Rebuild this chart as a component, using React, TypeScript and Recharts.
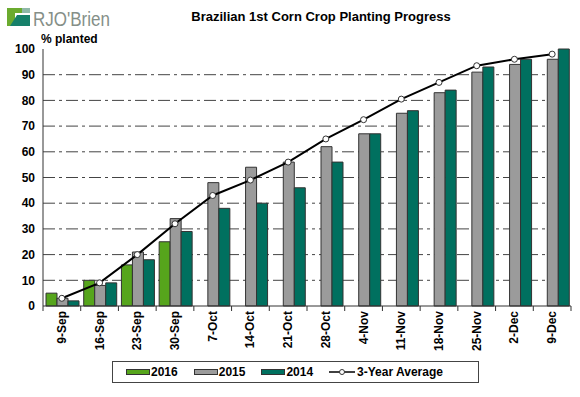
import React from 'react';
import {
  ComposedChart,
  Bar,
  Line,
  XAxis,
  YAxis,
  CartesianGrid,
  Legend,
} from 'recharts';

const weeks = [
  '9-Sep', '16-Sep', '23-Sep', '30-Sep', '7-Oct', '14-Oct', '21-Oct',
  '28-Oct', '4-Nov', '11-Nov', '18-Nov', '25-Nov', '2-Dec', '9-Dec',
];
const crop2016 = [5, 10, 16, 25, null, null, null, null, null, null, null, null, null, null];
const crop2015 = [3, 8, 21, 34, 48, 54, 56, 62, 67, 75, 83, 91, 94, 96];
const crop2014 = [2, 9, 18, 29, 38, 40, 46, 56, 67, 76, 84, 93, 96, 100];
const threeYearAvg = [3, 9, 20, 32, 43, 49, 56, 65, 72.5, 80.5, 87, 93.5, 96, 98];
const yTicks = [0, 10, 20, 30, 40, 50, 60, 70, 80, 90, 100];

const rows = weeks.map((week, i) => ({
  week,
  y2016: crop2016[i],
  y2015: crop2015[i],
  y2014: crop2014[i],
  avg: threeYearAvg[i],
}));

const FONT = '"Liberation Sans", Arial, sans-serif';
const C2016 = '#56a51c';
const C2015 = '#9b9b9b';
const C2014 = '#00705f';
const EDGE = '#333333';

const W = 580;
const H = 397;
const M = { top: 49, right: 9, left: 0, bottom: 14 };
const Y_W = 43;
const BAND = (W - M.left - M.right - Y_W) / weeks.length;

function WeekTick(props: any) {
  const { x, y, payload, index } = props;
  const left = x - BAND / 2;
  return (
    <g>
      <line x1={left} y1={y} x2={left} y2={y + 5} stroke={EDGE} />
      {index === weeks.length - 1 && (
        <line x1={x + BAND / 2} y1={y} x2={x + BAND / 2} y2={y + 5} stroke={EDGE} />
      )}
      <text
        transform={`translate(${x},${y + 5}) rotate(-90)`}
        textAnchor="end"
        dy={4}
        fontFamily={FONT}
        fontSize={12}
        fontWeight="bold"
        fill="#000"
      >
        {payload.value}
      </text>
    </g>
  );
}

const legendItems = [
  { label: '2016', color: C2016, kind: 'bar' },
  { label: '2015', color: C2015, kind: 'bar' },
  { label: '2014', color: C2014, kind: 'bar' },
  { label: '3-Year Average', color: '#000', kind: 'line' },
];

function LegendBox() {
  return (
    <div
      style={{
        width: 352,
        height: 20,
        border: '1px solid #444',
        background: '#fff',
        display: 'flex',
        alignItems: 'center',
        fontFamily: FONT,
        fontSize: 12,
        fontWeight: 'bold',
        paddingLeft: 13,
        boxSizing: 'content-box',
      }}
    >
      {legendItems.map((it) => (
        <div key={it.label} style={{ display: 'flex', alignItems: 'center', marginRight: 16 }}>
          {it.kind === 'bar' ? (
            <svg width={24} height={8}>
              <rect x={0.5} y={1.5} width={23} height={5} fill={it.color} stroke={EDGE} />
            </svg>
          ) : (
            <svg width={26} height={8}>
              <line x1={0} y1={4} x2={26} y2={4} stroke="#000" strokeWidth={1.5} />
              <circle cx={13} cy={4} r={2.5} fill="#fff" stroke="#333" />
            </svg>
          )}
          <span style={{ marginLeft: it.kind === 'bar' ? 1 : 2 }}>{it.label}</span>
        </div>
      ))}
    </div>
  );
}

function Logo() {
  return (
    <svg width={140} height={34} style={{ position: 'absolute', left: 0, top: 0 }}>
      <rect x={7} y={8} width={8} height={18} fill="#6bab2f" />
      <rect x={15} y={8} width={7} height={5} fill="#6bab2f" />
      <rect x={22} y={8} width={8} height={5} fill="#8fb8a8" />
      <polygon points="17,15 30,15 30,26 10,26" fill="#16806a" />
      <text
        x={33}
        y={26}
        fontFamily={FONT}
        fontSize={20}
        fill="#858f88"
        textLength={77}
        lengthAdjust="spacingAndGlyphs"
      >
        RJO'Brien
      </text>
    </svg>
  );
}

export default function App() {
  return (
    <div style={{ position: 'absolute', left: 0, top: 0, width: W, height: H, background: '#fff' }}>
      <Logo />
      <div
        style={{
          position: 'absolute',
          top: 9,
          left: 0,
          width: 642,
          textAlign: 'center',
          fontFamily: FONT,
          fontSize: 13,
          fontWeight: 'bold',
        }}
      >
        Brazilian 1st Corn Crop Planting Progress
      </div>
      <div
        style={{
          position: 'absolute',
          top: 32,
          left: 41,
          fontFamily: FONT,
          fontSize: 12,
          fontWeight: 'bold',
        }}
      >
        % planted
      </div>
      <ComposedChart width={W} height={H} data={rows} margin={M} barCategoryGap={3} barGap={0}>
        <CartesianGrid
          vertical={false}
          stroke="#444"
          strokeDasharray="12 4 3 4"
          horizontalValues={[10, 20, 30, 40, 50, 60, 70, 80, 90]}
        />
        <XAxis
          dataKey="week"
          height={55}
          interval={0}
          tickLine={false}
          tickSize={0}
          tickMargin={0}
          axisLine={{ stroke: EDGE }}
          tick={<WeekTick />}
        />
        <XAxis xAxisId="top" dataKey="week" orientation="top" height={0} tick={false} tickLine={false} axisLine={{ stroke: EDGE }} />
        <YAxis
          domain={[0, 100]}
          ticks={yTicks}
          width={Y_W}
          interval={0}
          tickLine={false}
          tickSize={0}
          tickMargin={8}
          axisLine={{ stroke: EDGE }}
          tick={{ fill: '#000', fontSize: 12, fontWeight: 'bold', fontFamily: FONT }}
        />
        <YAxis yAxisId="right" orientation="right" width={0} domain={[0, 100]} tick={false} tickLine={false} axisLine={{ stroke: EDGE }} />
        <Legend
          verticalAlign="bottom"
          content={() => <LegendBox />}
          wrapperStyle={{ left: 112, width: 370 }}
        />
        <Bar dataKey="y2016" fill={C2016} stroke={EDGE} strokeWidth={1} isAnimationActive={false} />
        <Bar dataKey="y2015" fill={C2015} stroke={EDGE} strokeWidth={1} isAnimationActive={false} />
        <Bar dataKey="y2014" fill={C2014} stroke={EDGE} strokeWidth={1} isAnimationActive={false} />
        <Line
          dataKey="avg"
          type="linear"
          stroke="#000"
          strokeWidth={2}
          dot={{ r: 3, fill: '#fff', stroke: '#333', strokeWidth: 1 }}
          isAnimationActive={false}
        />
      </ComposedChart>
    </div>
  );
}
